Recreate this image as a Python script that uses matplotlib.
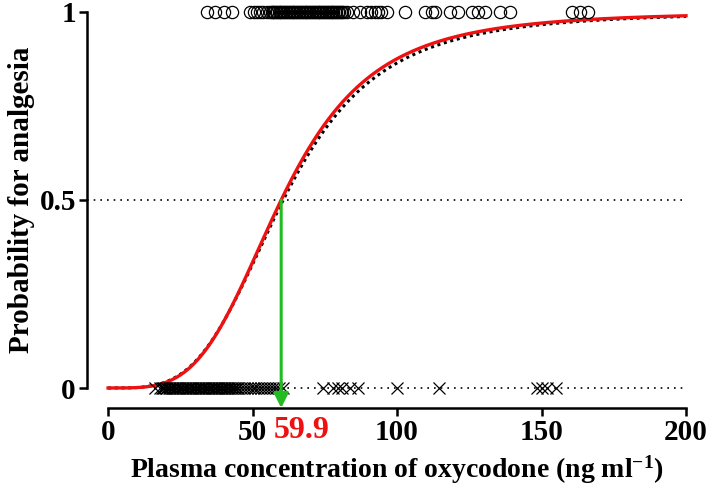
import numpy as np
import matplotlib
matplotlib.use("Agg")
import matplotlib.pyplot as plt
from matplotlib.patches import FancyArrowPatch

# ---- data ----
analgesia_conc = [34.3, 37.0, 40.1, 42.9, 49.1, 50.5, 51.6, 52.5, 53.6, 55.0,
                  56.1, 56.6, 57.0, 57.5, 58.0, 58.5, 59.0, 59.5, 60.0, 60.5,
                  61.0, 61.5, 62.0, 62.5, 63.0, 63.5, 64.0, 64.5, 65.0, 65.5,
                  66.0, 66.5, 67.0, 67.5, 68.0, 68.5, 69.0, 69.5, 70.0, 70.5,
                  71.0, 71.5, 72.0, 72.5, 73.0, 73.5, 74.0, 74.5, 75.0, 75.5,
                  76.0, 76.5, 77.0, 77.5, 78.0, 78.5, 79.0, 79.5, 80.0, 80.5,
                  81.0, 81.5, 82.7, 84.8, 87.2, 89.6, 91.0, 92.4, 93.5, 94.5,
                  96.5, 102.8, 109.7, 112.1, 113.1, 118.3, 121.1, 126.0, 128.0,
                  130.4, 135.6, 139.1, 160.6, 163.3, 166.1]
no_analgesia_conc = [16.3, 18.0, 18.5, 19.0, 19.5, 20.0, 20.5, 21.0, 21.5, 22.0,
                     22.5, 23.0, 23.5, 24.0, 24.5, 25.0, 25.5, 26.0, 26.5, 27.0,
                     27.5, 28.0, 28.5, 29.0, 29.5, 30.0, 30.5, 31.0, 31.5, 32.0,
                     32.5, 33.0, 33.5, 34.0, 34.5, 35.0, 35.5, 36.0, 36.5, 37.0,
                     37.5, 38.0, 38.5, 39.0, 39.5, 40.0, 40.5, 41.0, 41.5, 42.0,
                     42.5, 43.0, 43.5, 44.0, 44.5, 45.0, 46.0, 47.0, 48.0, 49.0,
                     50.0, 51.0, 52.0, 53.0, 54.0, 55.0, 56.0, 57.0, 58.0, 59.0,
                     60.5, 74.4, 77.9, 79.5, 81.0, 83.7, 86.5, 100.0,
                     114.5, 148.4, 150.0, 152.0, 155.0]
ec50 = 59.9
gamma_fit = 3.81          # red fitted curve
ec50_alt = 60.6           # black dotted curve
gamma_alt = 3.70
x_ticks = [0, 50, 100, 150, 200]
y_ticks = [0, 0.5, 1]
y_ticklabels = ["0", "0.5", "1"]

plt.rcParams['font.family'] = ['Liberation Serif', 'DejaVu Serif']
plt.rcParams['font.weight'] = 'bold'
plt.rcParams['mathtext.fontset'] = 'custom'
plt.rcParams['mathtext.rm'] = 'Liberation Serif:bold'
plt.rcParams['mathtext.bf'] = 'Liberation Serif:bold'
plt.rcParams['mathtext.default'] = 'bf'

fig = plt.figure(figsize=(7.09, 4.90), dpi=100)
ax = fig.add_axes([87/709, 1-408/490, (686-87)/709, (408-12)/490])

xmin = -7.3
ymin = -20/376
ax.set_xlim(xmin, 200)
ax.set_ylim(ymin, 1.0)

conc = np.linspace(0, 200, 600)
p_fit = conc**gamma_fit / (conc**gamma_fit + ec50**gamma_fit)
p_alt = conc**gamma_alt / (conc**gamma_alt + ec50_alt**gamma_alt)

# reference dotted lines
ax.plot([xmin, 200], [0.5, 0.5], color='black', ls=(0, (1, 3)), lw=1.2, clip_on=False)
ax.plot([16, 200], [0, 0], color='black', ls=(0, (1, 3)), lw=1.2, clip_on=False)

ax.plot(conc, p_alt, color='black', ls=(0, (1, 1.2)), lw=2.2, clip_on=False, zorder=3)
ax.plot(conc, p_fit, color='#ee1111', lw=2.4, clip_on=False, zorder=4)

ax.plot(analgesia_conc, np.ones(len(analgesia_conc)), ls='none', marker='o',
        ms=8.8, mfc='none', mec='black', mew=0.9, clip_on=False, zorder=5)
ax.plot(no_analgesia_conc, np.zeros(len(no_analgesia_conc)), ls='none', marker='x',
        ms=8.5, mec='black', mew=0.9, clip_on=False, zorder=5)

arrow = FancyArrowPatch((ec50, 0.5), (ec50, ymin), arrowstyle='-|>',
                        mutation_scale=22, color='#22bb22', lw=2.2,
                        shrinkA=0, shrinkB=0, clip_on=False, zorder=6)
ax.add_patch(arrow)

for s in ['top', 'right']:
    ax.spines[s].set_visible(False)
ax.spines['left'].set_bounds(0, 1)
ax.spines['bottom'].set_bounds(0, 200)
for s in ['left', 'bottom']:
    ax.spines[s].set_linewidth(1.8)

ax.set_xticks(x_ticks)
ax.set_yticks(y_ticks)
ax.set_yticklabels(y_ticklabels)
ax.tick_params(axis='both', direction='out', length=6, width=1.8,
               labelsize=21, pad=2)
for lab in ax.get_xticklabels() + ax.get_yticklabels():
    lab.set_fontweight('bold')

ax.text(ec50 + 7, ymin - 0.02, "59.9", color='#ee1111', fontsize=23,
        fontweight='bold', ha='center', va='top')

ax.set_xlabel("Plasma concentration of oxycodone (ng ml$^{-1}$)",
              fontsize=20, fontweight='bold')
ax.set_ylabel("Probability for analgesia", fontsize=21, fontweight='bold')
ax.xaxis.set_label_coords((397-87)/599, -0.115)
ax.yaxis.set_label_coords(-0.087, (408-200)/396)

fig.savefig("out.png", dpi=100)
